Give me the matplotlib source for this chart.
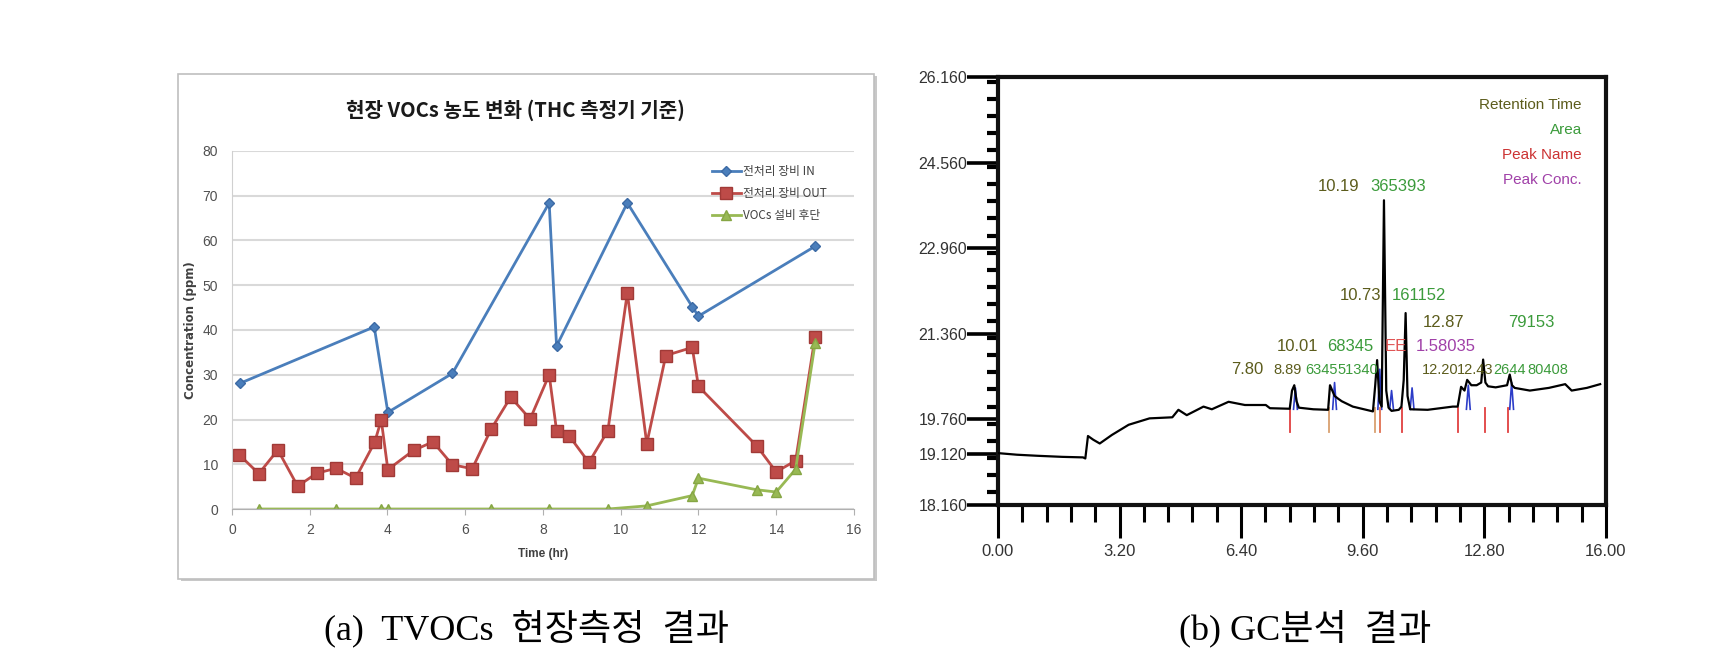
import matplotlib
matplotlib.use("Agg")
import matplotlib.pyplot as plt
from matplotlib.patches import Rectangle
from matplotlib.ticker import MultipleLocator, FixedLocator, FormatStrFormatter

plt.rcParams['font.family'] = ['Noto Sans CJK KR', 'DejaVu Sans']
NARROW = ['Liberation Sans Narrow', 'Liberation Sans', 'DejaVu Sans']

# ---- (a) field TVOC data ----
t_in = [0.21, 3.66, 4.01, 5.67, 8.16, 8.35, 10.17, 11.84, 12.00, 15.00]
v_in = [28.1, 40.7, 21.6, 30.3, 68.4, 36.4, 68.4, 45.2, 43.1, 58.7]

t_out = [0.19, 0.69, 1.18, 1.69, 2.18, 2.68, 3.18, 3.67, 3.84, 4.01, 4.67, 5.17,
         5.67, 6.18, 6.67, 7.17, 7.67, 8.16, 8.35, 8.67, 9.18, 9.67, 10.17, 10.67,
         11.16, 11.84, 12.00, 13.50, 14.00, 14.50, 15.00]
v_out = [12.1, 7.9, 13.2, 5.1, 8.0, 9.1, 6.9, 14.9, 19.9, 8.8, 13.1, 15.0,
         9.9, 9.0, 17.9, 25.0, 20.1, 30.0, 17.5, 16.4, 10.4, 17.5, 48.3, 14.6,
         34.3, 36.1, 27.4, 14.1, 8.3, 10.8, 38.5]

t_end = [0.69, 2.68, 3.84, 4.01, 6.67, 8.16, 9.67, 10.67, 11.84, 12.00, 13.50, 14.00, 14.50, 15.00]
v_end = [0.0, 0.0, 0.0, 0.0, 0.0, 0.0, 0.0, 0.7, 3.0, 6.9, 4.3, 3.8, 8.9, 37.0]

series_names = ['전처리 장비 IN', '전처리 장비 OUT', 'VOCs 설비 후단']

# ---- (b) GC chromatogram ----
gc_points = [
    (0.00, 19.13), (0.50, 19.10), (1.04, 19.08), (1.69, 19.06), (2.24, 19.05),
    (2.30, 19.03), (2.37, 19.45), (2.51, 19.38), (2.68, 19.31), (3.00, 19.47),
    (3.44, 19.66), (3.99, 19.78), (4.59, 19.80), (4.75, 19.94), (4.97, 19.84),
    (5.41, 20.00), (5.63, 19.95), (6.07, 20.09), (6.50, 20.03), (7.05, 20.03),
    (7.16, 19.97), (7.68, 19.96), (7.74, 20.30), (7.80, 20.40), (7.86, 20.10),
    (7.92, 19.98), (8.30, 19.95), (8.69, 19.94), (8.74, 20.40), (8.80, 20.30),
    (8.86, 20.20), (8.95, 20.15), (9.05, 20.10), (9.34, 20.00), (9.87, 19.91),
    (9.93, 20.40), (9.98, 20.87), (10.04, 20.10), (10.10, 20.00), (10.16, 23.86),
    (10.22, 20.30), (10.28, 19.98), (10.36, 19.92), (10.55, 19.94), (10.62, 20.00),
    (10.68, 20.50), (10.73, 21.75), (10.78, 20.20), (10.85, 19.95), (11.31, 19.94),
    (11.97, 20.00), (12.10, 20.00), (12.19, 20.37), (12.28, 20.30), (12.35, 20.50),
    (12.46, 20.40), (12.60, 20.40), (12.72, 20.45), (12.77, 20.88), (12.83, 20.45),
    (12.90, 20.38), (13.10, 20.36), (13.40, 20.40), (13.47, 20.60), (13.53, 20.40),
    (13.60, 20.35), (14.00, 20.30), (14.50, 20.35), (14.93, 20.42), (15.10, 20.30),
    (15.50, 20.35), (15.85, 20.42),
]
gc_t = [p[0] for p in gc_points]
gc_v = [p[1] for p in gc_points]

# fitted peaks (blue) and integration markers (red / orange)
blue_peaks = [(7.83, 20.35), (8.86, 20.45), (10.05, 20.70), (10.36, 20.30),
              (10.90, 20.35), (12.38, 20.40), (13.52, 20.45)]
marker_t = [7.68, 8.72, 9.92, 10.05, 10.63, 12.10, 12.81, 13.42]
marker_c = ['#e04040', '#d9a070', '#d9a070', '#e07050', '#e04040', '#e04040', '#e04040', '#e04040']

# peak labels: (text, t, v, colour, size)
olive = '#5c5c1c'
green = '#3b9b3b'
peak_labels = [
    ('10.19', 8.96, 24.11, olive, 12), ('365393', 10.52, 24.11, green, 12),
    ('10.73', 9.54, 22.07, olive, 12), ('161152', 11.07, 22.07, green, 12),
    ('12.87', 11.73, 21.58, olive, 12), ('79153', 14.05, 21.58, green, 12),
    ('10.01', 7.88, 21.12, olive, 12), ('68345', 9.28, 21.12, green, 12),
    ('EE', 10.47, 21.12, '#e05555', 12), ('1.58035', 11.79, 21.12, '#a040a8', 12),
    ('7.80', 6.56, 20.69, olive, 12), ('8.89', 7.62, 20.69, olive, 10.5),
    ('6345', 8.52, 20.69, green, 10.5), ('51340', 9.46, 20.69, green, 10.5),
    ('12.20', 11.63, 20.69, olive, 10.5), ('12.43', 12.57, 20.69, olive, 10.5),
    ('2644', 13.47, 20.69, green, 10.5), ('80408', 14.48, 20.69, green, 10.5),
]
legend_gc = [('Retention Time', olive), ('Area', green),
             ('Peak Name', '#cc3333'), ('Peak Conc.', '#a040a8')]

fig = plt.figure(figsize=(17.12, 6.53), dpi=100)

# frame around the left chart (with a light shadow)
fig.patches.append(Rectangle((0.1055, 0.1095), 0.4068, 0.7735, transform=fig.transFigure,
                             facecolor='#c8c8c8', edgecolor='none', zorder=-2))
fig.patches.append(Rectangle((0.104, 0.1133), 0.4065, 0.7734, transform=fig.transFigure,
                             facecolor='white', edgecolor='#bfbfbf', lw=1.2, zorder=-1))

ax = fig.add_axes([0.1355, 0.2205, 0.3633, 0.5483])
ax.set_zorder(2)
ax.set_facecolor('none')
ax.plot(t_in, v_in, color='#4a7ebb', lw=2, marker='D', ms=5.5, mec='#3c6aa5', label=series_names[0])
ax.plot(t_out, v_out, color='#be4b48', lw=2, marker='s', ms=8, mec='#a13a37', label=series_names[1])
ax.plot(t_end, v_end, color='#98b954', lw=2, marker='^', ms=7, mec='#86a644', label=series_names[2])
ax.set_xlim(0, 16)
ax.set_ylim(0, 80)
ax.xaxis.set_major_locator(MultipleLocator(2))
ax.yaxis.set_major_locator(MultipleLocator(10))
ax.grid(axis='y', color='#d9d9d9', lw=1.5)
ax.set_axisbelow(True)
for s in ['top', 'right']:
    ax.spines[s].set_visible(False)
ax.spines['left'].set_color('#d0d0d0')
ax.spines['bottom'].set_color('#b0b0b0')
ax.tick_params(axis='y', length=0, pad=10, labelsize=10, labelcolor='#505050')
ax.tick_params(axis='x', length=4, color='#b0b0b0', pad=6, labelsize=10, labelcolor='#505050')
for lab in ax.get_xticklabels() + ax.get_yticklabels():
    lab.set_family(NARROW)
ax.set_xlabel('Time (hr)', fontsize=8.5, family=NARROW, fontweight='bold', color='#404040', labelpad=8)
ax.set_ylabel('Concentration (ppm)', fontsize=8.5, fontweight='bold', color='#404040', labelpad=4,
              family=['DejaVu Sans'])
ax.legend(loc='upper left', bbox_to_anchor=(0.755, 0.99), frameon=False, fontsize=8.5,
          handlelength=2.4, labelspacing=0.75, handletextpad=0.2, labelcolor='#404040')
fig.text(0.301, 1 - 110 / 653, '현장 VOCs 농도 변화 (THC 측정기 기준)', ha='center', va='center',
         fontsize=14.5, fontweight='bold', color='#1a1a1a')

# ---- right: GC chromatogram ----
bx = fig.add_axes([0.5829, 0.2267, 0.3551, 0.6549])
bx.plot(gc_t, gc_v, color='black', lw=1.6, zorder=3)
for pt, pv in blue_peaks:
    bx.plot([pt - 0.05, pt, pt + 0.05], [19.95, pv, 19.95], color='#2c3cc8', lw=1.2, zorder=2)
for mt, mc in zip(marker_t, marker_c):
    bx.plot([mt, mt], [19.97, 19.53], color=mc, lw=1.3, zorder=2)
for txt, tt, tv, col, fs in peak_labels:
    bx.text(tt, tv, txt, color=col, ha='center', va='center', fontsize=fs, family=NARROW, zorder=4)
for i, (txt, col) in enumerate(legend_gc):
    bx.text(15.37, 25.64 - i * 0.465, txt, color=col, ha='right', va='center', fontsize=11, family=NARROW)

bx.set_xlim(0, 16)
bx.set_ylim(18.16, 26.16)
bx.xaxis.set_major_locator(MultipleLocator(3.2))
bx.xaxis.set_minor_locator(MultipleLocator(0.64))
bx.xaxis.set_major_formatter(FormatStrFormatter('%.2f'))
ymaj = [18.16, 19.12, 19.76, 21.36, 22.96, 24.56, 26.16]
bx.yaxis.set_major_locator(FixedLocator(ymaj))
bx.yaxis.set_minor_locator(MultipleLocator(0.32, offset=0.16))
bx.yaxis.set_major_formatter(FormatStrFormatter('%.3f'))
for s in bx.spines.values():
    s.set_linewidth(3)
    s.set_color('#111111')
bx.tick_params(axis='x', which='major', direction='out', length=24, width=2.2, pad=4,
               labelsize=12, labelcolor='#333333')
bx.tick_params(axis='x', which='minor', direction='out', length=12, width=2.2)
bx.tick_params(axis='y', which='major', direction='out', length=22, width=2.6, pad=0,
               labelsize=11.5, labelcolor='#333333')
bx.tick_params(axis='y', which='minor', direction='out', length=8, width=3, pad=2)
for lab in bx.get_xticklabels() + bx.get_yticklabels():
    lab.set_family(NARROW)

# captions
cap_font = ['Liberation Serif', 'Noto Sans CJK KR']
fig.text(526 / 1712, 1 - 628 / 653, '(a)  TVOCs  현장측정  결과', ha='center', va='center',
         fontsize=26, family=cap_font)
fig.text(1305 / 1712, 1 - 628 / 653, '(b) GC분석  결과', ha='center', va='center',
         fontsize=26, family=cap_font)

fig.savefig('out.png', dpi=100, facecolor='white')
